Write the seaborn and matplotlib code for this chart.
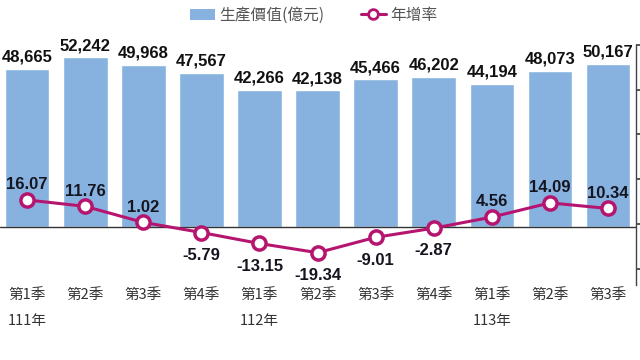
import matplotlib
matplotlib.use("Agg")
import matplotlib.pyplot as plt
import seaborn as sns
import pandas as pd
import numpy as np
from matplotlib.patches import Patch
from matplotlib.lines import Line2D

periods = ["111Q1", "111Q2", "111Q3", "111Q4", "112Q1", "112Q2", "112Q3", "112Q4",
           "113Q1", "113Q2", "113Q3"]
quarter_labels = ["第1季", "第2季", "第3季", "第4季", "第1季", "第2季", "第3季", "第4季",
                  "第1季", "第2季", "第3季"]
year_labels = ["111年", "", "", "", "112年", "", "", "", "113年", "", ""]
production = [48665, 52242, 49968, 47567, 42266, 42138, 45466, 46202, 44194, 48073, 50167]
growth = [16.07, 11.76, 1.02, -5.79, -13.15, -19.34, -9.01, -2.87, 4.56, 14.09, 10.34]

sns.set_theme(style="white")
plt.rcParams['font.family'] = ['Noto Sans CJK TC', 'DejaVu Sans']

num_font = ['Liberation Sans Narrow', 'Liberation Sans', 'DejaVu Sans']
bar_color = "#87B2E0"
line_color = "#B5156F"

df = pd.DataFrame({"period": periods, "production": production, "growth": growth})
df["pos"] = np.arange(len(df))

fig = plt.figure(figsize=(6.4, 3.6), dpi=100)
ax = fig.add_axes([0.0, 1 - 285 / 360, 636 / 640, 240 / 360])

sns.barplot(data=df, x="period", y="production", color=bar_color, width=0.77,
            saturation=1, ax=ax)
ax.set_ylim(-17860, 56060)
ax.set_xlim(-0.465, 10.48)
for c in ax.containers:
    ax.bar_label(c, labels=[f"{v:,.0f}" for v in production], padding=3,
                 fontsize=12, fontweight="bold", color="#111111", family=num_font)
ax.axhline(0, color="#333333", lw=1.0, zorder=3)
ax.set_xlabel("")
ax.set_ylabel("")
ax.set_yticks([])
ax.set_xticks([])
for s in ax.spines.values():
    s.set_visible(False)

ax2 = ax.twinx()
sns.lineplot(data=df, x="pos", y="growth", color=line_color, lw=2.2, marker="o",
             markersize=9.5, markerfacecolor="white", markeredgecolor=line_color,
             markeredgewidth=2.5, ax=ax2, zorder=4)
ax2.set_ylim(-41, 118)
ax2.set_yticks([-30, 0, 30, 60, 90, 120])
ax2.set_yticklabels([])
ax2.tick_params(axis="y", direction="out", length=5, color="#444444", right=True)
ax2.set_xlabel("")
ax2.set_ylabel("")
for k, s in ax2.spines.items():
    s.set_visible(k == "right")
ax2.spines["right"].set_color("#444444")
ax2.spines["right"].set_linewidth(1.0)
ax2.set_xlim(-0.465, 10.48)

for x, v in zip(df["pos"], growth):
    if v >= 0:
        ax2.annotate(f"{v:.2f}", (x, v), xytext=(0, 5.5), textcoords="offset points",
                     ha="center", va="bottom", fontsize=12, fontweight="bold",
                     color="#151520", family=num_font)
    else:
        ax2.annotate(f"{v:.2f}", (x, v), xytext=(0, -11), textcoords="offset points",
                     ha="center", va="top", fontsize=12, fontweight="bold",
                     color="#151520", family=num_font)

# category labels
for x, q, y in zip(df["pos"], quarter_labels, year_labels):
    ax2.text(x, -0.043, q, transform=ax2.get_xaxis_transform(), ha="center", va="center",
             fontsize=10.5, color="#333333")
    if y:
        ax2.text(x, -0.152, y, transform=ax2.get_xaxis_transform(), ha="center",
                 va="center", fontsize=10.5, color="#333333")

handles = [Patch(facecolor=bar_color, edgecolor="none"),
           Line2D([0], [0], color=line_color, lw=2.2, marker="o", markersize=7,
                  markerfacecolor="white", markeredgecolor=line_color, markeredgewidth=2)]
fig.legend(handles, ["生產價值(億元)", "年增率"], loc="center", bbox_to_anchor=(0.49, 0.958),
           ncol=2, frameon=False, fontsize=11.3, labelcolor="#555555", handlelength=1.6,
           handletextpad=0.3, columnspacing=2.3)

fig.savefig("out.png", dpi=100)
